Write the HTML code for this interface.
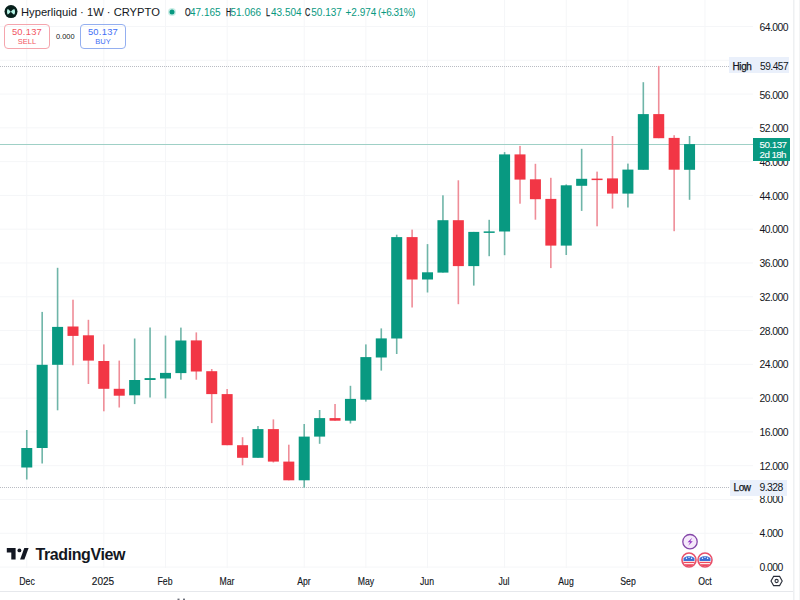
<!DOCTYPE html>
<html><head><meta charset="utf-8">
<style>
html,body{margin:0;padding:0;background:#fff;}
body{width:800px;height:600px;overflow:hidden;position:relative;font-family:"Liberation Sans",sans-serif;color:#131722;}
svg{position:absolute;left:0;top:0;}
.pl{position:absolute;left:759.5px;font-size:10.4px;line-height:12px;height:12px;color:#131722;letter-spacing:-0.55px;white-space:nowrap;}
.tl{position:absolute;top:574.5px;width:40px;text-align:center;font-size:10.6px;line-height:12px;color:#131722;letter-spacing:0px;transform:scaleX(0.82);-webkit-text-stroke:0.15px #131722;}
.leg{position:absolute;top:5px;left:21px;font-size:11.2px;line-height:14px;white-space:nowrap;}
.ohlc{position:absolute;top:7px;font-size:10px;line-height:12px;white-space:nowrap;color:#089981;}
.ohlc b{font-weight:normal;color:#131722;}
.box{position:absolute;top:24px;height:24.5px;border-radius:4px;box-sizing:border-box;text-align:center;font-size:10px;line-height:10px;}
.tag{position:absolute;background:#eaf0fb;font-size:10px;line-height:14px;height:15px;color:#131722;}
</style></head><body>
<svg width="800" height="600" viewBox="0 0 800 600">
<rect x="26.26" y="0" width="1" height="568" fill="#f5f6f8"/>
<rect x="103.33" y="0" width="1" height="568" fill="#f5f6f8"/>
<rect x="164.99" y="0" width="1" height="568" fill="#f5f6f8"/>
<rect x="226.64" y="0" width="1" height="568" fill="#f5f6f8"/>
<rect x="303.71" y="0" width="1" height="568" fill="#f5f6f8"/>
<rect x="365.37" y="0" width="1" height="568" fill="#f5f6f8"/>
<rect x="427.02" y="0" width="1" height="568" fill="#f5f6f8"/>
<rect x="504.09" y="0" width="1" height="568" fill="#f5f6f8"/>
<rect x="565.75" y="0" width="1" height="568" fill="#f5f6f8"/>
<rect x="627.41" y="0" width="1" height="568" fill="#f5f6f8"/>
<rect x="704.48" y="0" width="1" height="568" fill="#f5f6f8"/>
<rect x="0" y="566.55" width="753" height="1" fill="#f5f6f8"/>
<rect x="0" y="532.76" width="753" height="1" fill="#f5f6f8"/>
<rect x="0" y="498.98" width="753" height="1" fill="#f5f6f8"/>
<rect x="0" y="465.19" width="753" height="1" fill="#f5f6f8"/>
<rect x="0" y="431.41" width="753" height="1" fill="#f5f6f8"/>
<rect x="0" y="397.62" width="753" height="1" fill="#f5f6f8"/>
<rect x="0" y="363.84" width="753" height="1" fill="#f5f6f8"/>
<rect x="0" y="330.05" width="753" height="1" fill="#f5f6f8"/>
<rect x="0" y="296.27" width="753" height="1" fill="#f5f6f8"/>
<rect x="0" y="262.48" width="753" height="1" fill="#f5f6f8"/>
<rect x="0" y="228.69" width="753" height="1" fill="#f5f6f8"/>
<rect x="0" y="194.91" width="753" height="1" fill="#f5f6f8"/>
<rect x="0" y="161.12" width="753" height="1" fill="#f5f6f8"/>
<rect x="0" y="127.34" width="753" height="1" fill="#f5f6f8"/>
<rect x="0" y="93.55" width="753" height="1" fill="#f5f6f8"/>
<rect x="0" y="59.77" width="753" height="1" fill="#f5f6f8"/>
<rect x="0" y="25.98" width="753" height="1" fill="#f5f6f8"/>
<!-- high/low dotted lines -->
<line x1="0" y1="66.5" x2="729" y2="66.5" stroke="#b9bcc3" stroke-width="1" stroke-dasharray="1 1"/>
<line x1="0" y1="487.5" x2="730" y2="487.5" stroke="#b9bcc3" stroke-width="1" stroke-dasharray="1 1"/>
<!-- current price line -->
<line x1="0" y1="144.5" x2="753" y2="144.5" stroke="#9fd0c6" stroke-width="1"/>
<rect x="25.96" y="430.0" width="1.6" height="49.5" fill="#6fb5a8"/>
<rect x="21.26" y="448.0" width="11.0" height="19.5" fill="#089981"/>
<rect x="41.37" y="311.9" width="1.6" height="151.6" fill="#6fb5a8"/>
<rect x="36.67" y="364.8" width="11.0" height="83.2" fill="#089981"/>
<rect x="56.79" y="267.8" width="1.6" height="142.5" fill="#6fb5a8"/>
<rect x="52.09" y="326.9" width="11.0" height="37.9" fill="#089981"/>
<rect x="72.20" y="299.7" width="1.6" height="65.6" fill="#ef8d98"/>
<rect x="67.50" y="326.5" width="11.0" height="9.4" fill="#f23645"/>
<rect x="87.62" y="319.8" width="1.6" height="64.2" fill="#ef8d98"/>
<rect x="82.92" y="335.3" width="11.0" height="25.3" fill="#f23645"/>
<rect x="103.03" y="344.4" width="1.6" height="66.9" fill="#ef8d98"/>
<rect x="98.33" y="361.0" width="11.0" height="27.8" fill="#f23645"/>
<rect x="118.44" y="360.6" width="1.6" height="46.9" fill="#ef8d98"/>
<rect x="113.74" y="388.8" width="11.0" height="6.9" fill="#f23645"/>
<rect x="133.86" y="338.5" width="1.6" height="65.6" fill="#6fb5a8"/>
<rect x="129.16" y="380.0" width="11.0" height="15.3" fill="#089981"/>
<rect x="149.27" y="327.5" width="1.6" height="70.0" fill="#6fb5a8"/>
<rect x="144.57" y="378.1" width="11.0" height="1.9" fill="#089981"/>
<rect x="164.69" y="335.6" width="1.6" height="62.8" fill="#6fb5a8"/>
<rect x="159.99" y="372.9" width="11.0" height="5.6" fill="#089981"/>
<rect x="180.10" y="327.6" width="1.6" height="52.1" fill="#6fb5a8"/>
<rect x="175.40" y="340.5" width="11.0" height="32.6" fill="#089981"/>
<rect x="195.51" y="332.4" width="1.6" height="47.3" fill="#ef8d98"/>
<rect x="190.81" y="340.4" width="11.0" height="31.1" fill="#f23645"/>
<rect x="210.93" y="369.0" width="1.6" height="54.1" fill="#ef8d98"/>
<rect x="206.23" y="371.2" width="11.0" height="22.9" fill="#f23645"/>
<rect x="226.34" y="389.0" width="1.6" height="56.2" fill="#ef8d98"/>
<rect x="221.64" y="394.1" width="11.0" height="51.1" fill="#f23645"/>
<rect x="241.76" y="437.2" width="1.6" height="28.1" fill="#ef8d98"/>
<rect x="237.06" y="445.2" width="11.0" height="12.6" fill="#f23645"/>
<rect x="257.17" y="426.0" width="1.6" height="31.8" fill="#6fb5a8"/>
<rect x="252.47" y="429.1" width="11.0" height="28.7" fill="#089981"/>
<rect x="272.58" y="419.4" width="1.6" height="43.1" fill="#ef8d98"/>
<rect x="267.88" y="429.1" width="11.0" height="32.5" fill="#f23645"/>
<rect x="288.00" y="444.7" width="1.6" height="35.6" fill="#ef8d98"/>
<rect x="283.30" y="461.6" width="11.0" height="18.7" fill="#f23645"/>
<rect x="303.41" y="424.0" width="1.6" height="63.8" fill="#6fb5a8"/>
<rect x="298.71" y="436.6" width="11.0" height="43.7" fill="#089981"/>
<rect x="318.83" y="410.0" width="1.6" height="33.8" fill="#6fb5a8"/>
<rect x="314.13" y="418.1" width="11.0" height="18.5" fill="#089981"/>
<rect x="334.24" y="404.0" width="1.6" height="16.7" fill="#ef8d98"/>
<rect x="329.54" y="418.1" width="11.0" height="2.6" fill="#f23645"/>
<rect x="349.65" y="385.8" width="1.6" height="37.7" fill="#6fb5a8"/>
<rect x="344.95" y="398.9" width="11.0" height="21.8" fill="#089981"/>
<rect x="365.07" y="344.4" width="1.6" height="57.2" fill="#6fb5a8"/>
<rect x="360.37" y="357.1" width="11.0" height="42.6" fill="#089981"/>
<rect x="380.48" y="328.4" width="1.6" height="42.2" fill="#6fb5a8"/>
<rect x="375.78" y="338.4" width="11.0" height="19.1" fill="#089981"/>
<rect x="395.90" y="234.7" width="1.6" height="119.3" fill="#6fb5a8"/>
<rect x="391.20" y="237.1" width="11.0" height="101.4" fill="#089981"/>
<rect x="411.31" y="229.6" width="1.6" height="77.9" fill="#ef8d98"/>
<rect x="406.61" y="237.1" width="11.0" height="42.4" fill="#f23645"/>
<rect x="426.72" y="244.1" width="1.6" height="48.4" fill="#6fb5a8"/>
<rect x="422.02" y="272.3" width="11.0" height="7.2" fill="#089981"/>
<rect x="442.14" y="195.3" width="1.6" height="77.3" fill="#6fb5a8"/>
<rect x="437.44" y="220.2" width="11.0" height="52.4" fill="#089981"/>
<rect x="457.55" y="180.3" width="1.6" height="123.9" fill="#ef8d98"/>
<rect x="452.85" y="220.2" width="11.0" height="45.9" fill="#f23645"/>
<rect x="472.97" y="231.9" width="1.6" height="53.7" fill="#6fb5a8"/>
<rect x="468.27" y="231.9" width="11.0" height="34.2" fill="#089981"/>
<rect x="488.38" y="219.8" width="1.6" height="36.4" fill="#6fb5a8"/>
<rect x="483.68" y="231.4" width="11.0" height="1.5" fill="#089981"/>
<rect x="503.79" y="152.1" width="1.6" height="103.1" fill="#6fb5a8"/>
<rect x="499.09" y="154.4" width="11.0" height="77.1" fill="#089981"/>
<rect x="519.21" y="145.9" width="1.6" height="57.8" fill="#ef8d98"/>
<rect x="514.51" y="154.4" width="11.0" height="25.2" fill="#f23645"/>
<rect x="534.62" y="163.8" width="1.6" height="55.9" fill="#ef8d98"/>
<rect x="529.92" y="179.3" width="11.0" height="19.9" fill="#f23645"/>
<rect x="550.04" y="177.8" width="1.6" height="90.3" fill="#ef8d98"/>
<rect x="545.34" y="198.9" width="11.0" height="46.7" fill="#f23645"/>
<rect x="565.45" y="184.4" width="1.6" height="70.6" fill="#6fb5a8"/>
<rect x="560.75" y="185.3" width="11.0" height="60.3" fill="#089981"/>
<rect x="580.86" y="148.8" width="1.6" height="62.1" fill="#6fb5a8"/>
<rect x="576.16" y="178.8" width="11.0" height="7.0" fill="#089981"/>
<rect x="596.28" y="171.6" width="1.6" height="54.7" fill="#ef8d98"/>
<rect x="591.58" y="178.6" width="11.0" height="1.5" fill="#f23645"/>
<rect x="611.69" y="136.0" width="1.6" height="72.6" fill="#ef8d98"/>
<rect x="606.99" y="178.4" width="11.0" height="15.2" fill="#f23645"/>
<rect x="627.11" y="163.6" width="1.6" height="43.9" fill="#6fb5a8"/>
<rect x="622.41" y="169.6" width="11.0" height="24.0" fill="#089981"/>
<rect x="642.52" y="82.2" width="1.6" height="87.5" fill="#6fb5a8"/>
<rect x="637.82" y="114.1" width="11.0" height="55.7" fill="#089981"/>
<rect x="657.93" y="65.9" width="1.6" height="72.3" fill="#ef8d98"/>
<rect x="653.23" y="114.1" width="11.0" height="24.1" fill="#f23645"/>
<rect x="673.35" y="135.2" width="1.6" height="96.0" fill="#ef8d98"/>
<rect x="668.65" y="137.9" width="11.0" height="31.8" fill="#f23645"/>
<rect x="688.76" y="136.0" width="1.6" height="63.8" fill="#6fb5a8"/>
<rect x="684.06" y="144.1" width="11.0" height="25.7" fill="#089981"/>
<!-- axis borders -->

<rect x="0" y="591" width="793" height="1" fill="#e6e8ec"/>
<rect x="793" y="0" width="1.5" height="600" fill="#eef0f2"/><rect x="799" y="0" width="1" height="600" fill="#f3f4f5"/>
<!-- logo -->
<circle cx="11" cy="11.6" r="6.5" fill="#07201c"/>
<path d="M7.6 9.1 C9 9.4 9.8 11 10.8 11.7 C11.8 11 12.8 9.3 14.3 9.1 C15.3 10.4 15.3 13.2 14.3 14.5 C12.8 14.3 11.8 12.5 10.8 11.7 C9.8 12.5 9 14.1 7.6 14.4 C6.8 13.1 6.8 10.4 7.6 9.1 Z" fill="#b4f2e4"/>
<circle cx="172" cy="12" r="4" fill="#c9ede6"/>
<circle cx="172" cy="12" r="2.5" fill="#089981"/>
<!-- TradingView logo mark -->
<path d="M6.8 548 H15.6 V559.6 H11.3 V552.4 H6.8 Z" fill="#131722"/>
<circle cx="19.4" cy="550.4" r="1.95" fill="#131722"/>
<path d="M24.3 548 H28.6 L24.4 559.6 H20.1 Z" fill="#131722"/>
<!-- event icons -->
<defs><clipPath id="c1"><circle cx="689" cy="560" r="6.3"/></clipPath><clipPath id="c2"><circle cx="705" cy="560" r="6.3"/></clipPath></defs>
<circle cx="690" cy="541.7" r="7.2" fill="#f5e9fa" stroke="#8446a8" stroke-width="1.3"/>
<path d="M692.2 537.8 L687.6 542.3 H690.2 L688.2 545.8 L692.8 541.2 H690.3 Z" fill="#9233c4"/>
<g clip-path="url(#c1)"><rect x="682" y="553" width="14" height="14" fill="#fff"/><path d="M683.5 561 V558 Q689 554 694.5 558 V561 Z" fill="#3d6fd4"/><circle cx="686.5" cy="558.3" r="0.7" fill="#fff"/><circle cx="689" cy="557.2" r="0.7" fill="#fff"/><circle cx="691.6" cy="558.3" r="0.7" fill="#fff"/><rect x="682" y="561.8" width="14" height="1.3" fill="#ee4a5e"/><rect x="682" y="564.2" width="14" height="2.5" fill="#ee4a5e"/></g>
<g clip-path="url(#c2)"><rect x="698" y="553" width="14" height="14" fill="#fff"/><path d="M699.5 561 V558 Q705 554 710.5 558 V561 Z" fill="#3d6fd4"/><circle cx="702.5" cy="558.3" r="0.7" fill="#fff"/><circle cx="705" cy="557.2" r="0.7" fill="#fff"/><circle cx="707.6" cy="558.3" r="0.7" fill="#fff"/><rect x="698" y="561.8" width="14" height="1.3" fill="#ee4a5e"/><rect x="698" y="564.2" width="14" height="2.5" fill="#ee4a5e"/></g>
<circle cx="689" cy="560" r="7" fill="none" stroke="#e8506a" stroke-width="1.6"/>
<circle cx="705" cy="560" r="7" fill="none" stroke="#e8506a" stroke-width="1.6"/>
<rect x="177.5" y="598.6" width="2" height="1.4" fill="#6a6d78"/><rect x="183" y="598.6" width="2" height="1.4" fill="#6a6d78"/>
<!-- settings hex -->
<path d="M773.6 576.4 L779.6 576.4 L782.2 581 L779.6 585.6 L773.6 585.6 L771 581 Z" fill="none" stroke="#2a2e39" stroke-width="1.1"/>
<circle cx="776.6" cy="581" r="1.6" fill="none" stroke="#2a2e39" stroke-width="1.1"/>
</svg>
<div class="leg">Hyperliquid · 1W · CRYPTO</div>
<div class="ohlc" style="left:184.5px;color:#131722;transform:scaleX(0.72);transform-origin:0 0;-webkit-text-stroke:0.25px #131722;">O</div><div class="ohlc" style="left:190px;">47.165</div><div class="ohlc" style="left:225.5px;color:#131722;transform:scaleX(0.72);transform-origin:0 0;-webkit-text-stroke:0.25px #131722;">H</div><div class="ohlc" style="left:230.5px;">51.066</div><div class="ohlc" style="left:266.3px;color:#131722;transform:scaleX(0.72);transform-origin:0 0;-webkit-text-stroke:0.25px #131722;">L</div><div class="ohlc" style="left:271px;">43.504</div><div class="ohlc" style="left:305.3px;color:#131722;transform:scaleX(0.72);transform-origin:0 0;-webkit-text-stroke:0.25px #131722;">C</div><div class="ohlc" style="left:311.3px;">50.137</div><div class="ohlc" style="left:345.5px;">+2.974</div><div class="ohlc" style="left:378px;letter-spacing:-0.5px;">(+6.31%)</div>
<div class="box" style="left:4px;width:46px;border:1.5px solid #f5a5ad;color:#f2545f;"><div style="position:absolute;left:0;right:0;top:1.6px;font-size:9.4px;line-height:10px;letter-spacing:0.25px;">50.137</div><div style="position:absolute;left:0;right:0;top:12.5px;font-size:7.5px;line-height:8px;">SELL</div></div>
<div style="position:absolute;left:56px;top:33px;font-size:7.4px;line-height:8px;color:#131722;">0.000</div>
<div class="box" style="left:80px;width:46px;border:1.5px solid #94aff0;color:#3f6ff5;"><div style="position:absolute;left:0;right:0;top:1.6px;font-size:9.4px;line-height:10px;letter-spacing:0.25px;">50.137</div><div style="position:absolute;left:0;right:0;top:12.5px;font-size:7.5px;line-height:8px;">BUY</div></div>
<div class="pl" style="top:562.0px">0.000</div>
<div class="pl" style="top:528.2px">4.000</div>
<div class="pl" style="top:494.4px">8.000</div>
<div class="pl" style="top:460.7px">12.000</div>
<div class="pl" style="top:426.9px">16.000</div>
<div class="pl" style="top:393.2px">20.000</div>
<div class="pl" style="top:359.4px">24.000</div>
<div class="pl" style="top:325.7px">28.000</div>
<div class="pl" style="top:291.9px">32.000</div>
<div class="pl" style="top:258.2px">36.000</div>
<div class="pl" style="top:224.4px">40.000</div>
<div class="pl" style="top:190.7px">44.000</div>
<div class="pl" style="top:156.9px">48.000</div>
<div class="pl" style="top:123.2px">52.000</div>
<div class="pl" style="top:89.5px">56.000</div>
<div class="pl" style="top:55.7px">60.000</div>
<div class="pl" style="top:21.9px">64.000</div>
<div class="tl" style="left:6.5px;">Dec</div>
<div class="tl" style="left:83.4px;transform:scaleX(0.95);">2025</div>
<div class="tl" style="left:145.2px;">Feb</div>
<div class="tl" style="left:206.8px;">Mar</div>
<div class="tl" style="left:284.1px;">Apr</div>
<div class="tl" style="left:345.6px;">May</div>
<div class="tl" style="left:407.2px;">Jun</div>
<div class="tl" style="left:484.4px;">Jul</div>
<div class="tl" style="left:546.3px;">Aug</div>
<div class="tl" style="left:608.1px;">Sep</div>
<div class="tl" style="left:685.0px;">Oct</div>
<div class="tag" style="left:729px;top:56.5px;width:60px;height:16.5px;"><span style="position:absolute;left:3.5px;top:3.5px;letter-spacing:-0.4px;-webkit-text-stroke:0.25px #131722;">High</span><span style="position:absolute;left:31px;top:3.5px;font-size:10.2px;letter-spacing:-0.5px;">59.457</span></div>
<div class="tag" style="left:730px;top:480px;width:56.5px;height:15.5px;"><span style="position:absolute;left:3.5px;top:1px;letter-spacing:-0.4px;-webkit-text-stroke:0.25px #131722;">Low</span><span style="position:absolute;left:29.5px;top:1px;font-size:10.4px;letter-spacing:-0.55px;">9.328</span></div>
<div style="position:absolute;left:753px;top:138px;width:37px;height:22.7px;background:#089981;color:#fff;font-size:9.8px;line-height:10px;letter-spacing:-0.5px;-webkit-text-stroke:0.1px #fff;"><div style="position:absolute;left:6.6px;top:2.4px;">50.137</div><div style="position:absolute;left:6.6px;top:12.4px;letter-spacing:-0.6px;">2d 18h</div></div>
<div style="position:absolute;left:35.5px;top:546px;font-size:16px;font-weight:bold;line-height:17px;letter-spacing:-0.4px;color:#131722;">TradingView</div>
</body></html>
